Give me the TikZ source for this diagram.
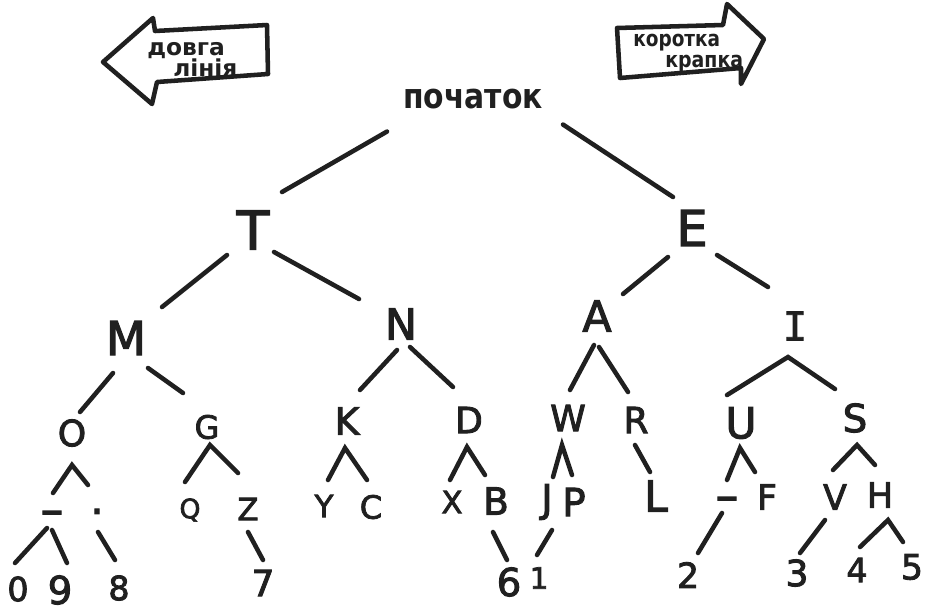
\documentclass[tikz,border=0pt]{standalone}
\usepackage{fontspec}
\setmainfont{DejaVu Sans}
\newfontfamily\monof[FakeBold=2]{DejaVu Sans Mono}
\newfontfamily\medf[FakeBold=2.5]{DejaVu Sans}
\definecolor{ink}{RGB}{32,32,32}
\begin{document}
\begin{tikzpicture}[x=0.75pt,y=-0.75pt,
  lt/.style={font=\fontsize{#1}{#1}\selectfont, inner sep=0pt, text=ink},
  bt/.style={font=\fontsize{#1}{#1}\selectfont\medf, inner sep=0pt, text=ink},
  hb/.style={font=\fontsize{#1}{#1}\selectfont\bfseries, inner sep=0pt, text=ink},
  edge/.style={draw=ink, line width=3.4pt, line cap=round},
  arrowbox/.style={draw=ink, line width=3.4pt, line join=round}]
\fill[white] (0,0) rectangle (930,612);
\useasboundingbox (0,0) rectangle (930,612);

% legend arrows
\draw[arrowbox] (103,62) -- (153,18) -- (155,31) -- (267,25) -- (268,74) -- (157,82) -- (152,104) -- cycle;
\node[hb=17.5, anchor=base west] (dl1) at (147,55) {довга};
\node[hb=17.5, anchor=base west] (dl2) at (173,76) {лінія};

\draw[arrowbox] (617,28) -- (723,25) -- (727,4) -- (764,39) -- (741,84) -- (741,68) -- (620,78) -- cycle;
\node[hb=16.5, anchor=base west] (kr1) at (633,46) {\scalebox{0.84}[1]{коротка}};
\node[hb=16.5, anchor=base west] (kr2) at (665,67) {\scalebox{0.86}[1]{крапка}};

% tree nodes
\node[hb=26, anchor=base] (root) at (473,108) {\scalebox{0.86}[1]{початок}};
\node[bt=40] (T) at (253,230) {T};
\node[bt=37] (E) at (692,228) {E};
\node[bt=35] (M) at (126,338) {M};
\node[bt=32] (N) at (401,324) {N};
\node[bt=32] (A) at (597,316) {A};
\node[lt=30, font=\fontsize{30}{30}\selectfont\monof] (I) at (795,326) {I};
\node[bt=27] (O) at (72,433) {O};
\node[bt=24] (G) at (207,427) {G};
\node[bt=28] (K) at (347,421) {K};
\node[bt=27] (D) at (469,420) {D};
\node[bt=27] (W) at (568,418) {W};
\node[bt=27] (R) at (636,420) {R};
\node[bt=32] (U) at (741,423) {U};
\node[bt=29] (S) at (855,418) {S};
\node[bt=34] (d1) at (52,518) {–};
\node[bt=30] (dot) at (97,517) {·};
\node[bt=20] (Q) at (190,510) {Q};
\node[bt=23] (Z) at (248,509) {Z};
\node[bt=23] (Y) at (324,506) {Y};
\node[bt=24] (C) at (371,507) {C};
\node[bt=23] (X) at (452,502) {X};
\node[bt=28] (B) at (496,501) {B};
\node[bt=29] (J) at (547,502) {J};
\node[bt=29] (P) at (574,502) {P};
\node[bt=32] (L) at (656,496) {L};
\node[bt=34] (d2) at (727,504) {–};
\node[bt=26] (F) at (767,497) {F};
\node[bt=26] (V) at (835,497) {V};
\node[bt=26] (H) at (880,495) {H};
\node[bt=25] (n0) at (18,589) {0};
\node[bt=29] (n9) at (60,590) {9};
\node[bt=25] (n8) at (119,588) {8};
\node[bt=27] (n7) at (263,583) {7};
\node[bt=29] (n6) at (509,582) {6};
\node[bt=22] (n1) at (539,578) {1};
\node[bt=26] (n2) at (688,575) {2};
\node[bt=27] (n3) at (797,573) {3};
\node[bt=25] (n4) at (857,570) {4};
\node[bt=26] (n5) at (912,567) {5};

% connectors
\draw[edge] ([shift={(-86,33)}]root.center) -- ([shift={(29,-38)}]T.center);
\draw[edge] ([shift={(90,26)}]root.center) -- ([shift={(-19,-31)}]E.center);
\draw[edge] ([shift={(-26,25)}]T.center) -- ([shift={(36,-31)}]M.center);
\draw[edge] ([shift={(21,22)}]T.center) -- ([shift={(-42,-25)}]N.center);
\draw[edge] ([shift={(-24,29)}]E.center) -- ([shift={(26,-22)}]A.center);
\draw[edge] ([shift={(25,27)}]E.center) -- ([shift={(-27,-39)}]I.center);
\draw[edge] ([shift={(-13,35)}]M.center) -- ([shift={(8,-21)}]O.center);
\draw[edge] ([shift={(22,30)}]M.center) -- ([shift={(-24,-34)}]G.center);
\draw[edge] ([shift={(-4,26)}]N.center) -- ([shift={(13,-31)}]K.center);
\draw[edge] ([shift={(9,23)}]N.center) -- ([shift={(-16,-33)}]D.center);
\draw[edge] ([shift={(-3,29)}]A.center) -- ([shift={(2,-28)}]W.center);
\draw[edge] ([shift={(2,31)}]A.center) -- ([shift={(-8,-28)}]R.center);
\draw[edge] ([shift={(-14,-28)}]U.center) -- ([shift={(-7,31)}]I.center) -- ([shift={(-20,-29)}]S.center);
\draw[edge] ([shift={(1,-25)}]d1.center) -- ([shift={(0,32)}]O.center) -- ([shift={(-9,-32)}]dot.center);
\draw[edge] ([shift={(-5,10)}]d1.center) -- ([shift={(-3,-26)}]n0.center);
\draw[edge] ([shift={(0,12)}]d1.center) -- ([shift={(7,-27)}]n9.center);
\draw[edge] ([shift={(1,15)}]dot.center) -- ([shift={(-4,-28)}]n8.center);
\draw[edge] ([shift={(-5,-28)}]Q.center) -- ([shift={(3,18)}]G.center) -- ([shift={(-10,-36)}]Z.center);
\draw[edge] ([shift={(0,23)}]Z.center) -- ([shift={(0,-23)}]n7.center);
\draw[edge] ([shift={(4,-26)}]Y.center) -- ([shift={(-2,27)}]K.center) -- ([shift={(-4,-27)}]C.center);
\draw[edge] ([shift={(-2,-22)}]X.center) -- ([shift={(-2,27)}]D.center) -- ([shift={(-11,-26)}]B.center);
\draw[edge] ([shift={(-3,31)}]B.center) -- ([shift={(-2,-22)}]n6.center);
\draw[edge] ([shift={(6,-25)}]J.center) -- ([shift={(-6,27)}]W.center) -- ([shift={(-2,-27)}]P.center);
\draw[edge] ([shift={(5,28)}]J.center) -- ([shift={(-2,-23)}]n1.center);
\draw[edge] ([shift={(-1,25)}]R.center) -- ([shift={(-6,-24)}]L.center);
\draw[edge] ([shift={(0,-24)}]d2.center) -- ([shift={(-1,25)}]U.center) -- ([shift={(-12,-25)}]F.center);
\draw[edge] ([shift={(-5,9)}]d2.center) -- ([shift={(10,-22)}]n2.center);
\draw[edge] ([shift={(-2,-27)}]V.center) -- ([shift={(2,27)}]S.center) -- ([shift={(-5,-30)}]H.center);
\draw[edge] ([shift={(-10,23)}]V.center) -- ([shift={(3,-20)}]n3.center);
\draw[edge] ([shift={(3,-23)}]n4.center) -- ([shift={(8,25)}]H.center) -- ([shift={(-9,-25)}]n5.center);
\end{tikzpicture}
\end{document}
